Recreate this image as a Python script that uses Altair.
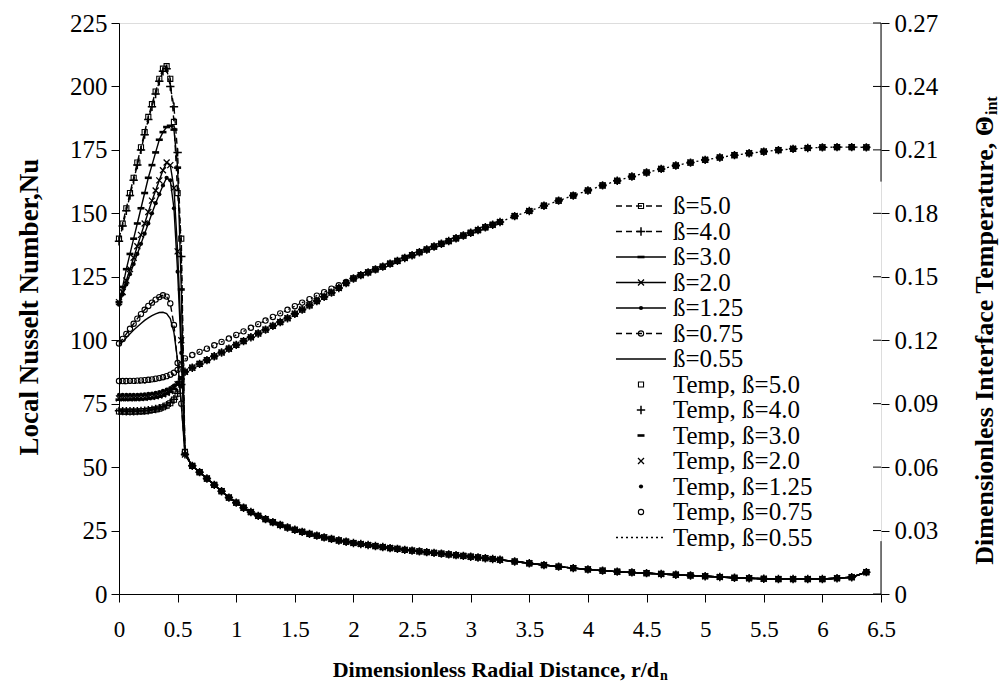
import altair as alt
import pandas as pd

FONT = "Liberation Serif"

# ---------------- data ----------------
R_HEAD = [0.0, 0.03125, 0.0625, 0.09375, 0.125, 0.15625, 0.1875, 0.21875, 0.25, 0.28125,
          0.3125, 0.34375, 0.375, 0.40625, 0.4375, 0.46875, 0.5, 0.53125, 0.5625]
R_TAIL = [0.625, 0.6875, 0.75, 0.8125, 0.875, 0.9375, 1.0, 1.0625, 1.125, 1.1875,
          1.25, 1.3125, 1.375, 1.4375, 1.5, 1.5625, 1.625, 1.6875, 1.75, 1.8125,
          1.875, 1.9375, 2.0, 2.0625, 2.125, 2.1875, 2.25, 2.3125, 2.375, 2.4375,
          2.5, 2.5625, 2.625, 2.6875, 2.75, 2.8125, 2.875, 2.9375, 3.0, 3.0625,
          3.125, 3.1875, 3.25, 3.375, 3.5, 3.625, 3.75, 3.875, 4.0, 4.125,
          4.25, 4.375, 4.5, 4.625, 4.75, 4.875, 5.0, 5.125, 5.25, 5.375,
          5.5, 5.625, 5.75, 5.875, 6.0, 6.125, 6.25, 6.375]

# Local Nusselt number near the stagnation zone (one list per beta)
NU_B50 = [140, 146, 152, 158, 164, 170, 176, 182, 188, 193, 198, 203, 207, 208, 203, 186, 158, 140, 56]
NU_B40 = [139, 145, 151, 157, 163, 169, 175, 181, 187, 192, 197, 202, 206, 207, 200, 192, 174, 133, 55]
NU_B30 = [115, 121, 128, 134, 140, 146, 152, 158, 164, 169, 174, 179, 182, 184, 184.5, 183, 168, 120, 55]
NU_B20 = [115, 119, 123.5, 128, 132.5, 137, 141.5, 146, 150.5, 155, 159, 163, 167, 170, 169, 160, 135, 100, 55]
NU_B125 = [114, 118, 122, 126, 130, 134, 138, 142, 146, 150, 154, 157.5, 161, 164, 163, 152, 127, 95, 55]
NU_B075 = [98.7, 100.5, 102.5, 104.5, 106.5, 108.5, 110.3, 112, 113.5, 114.8, 116, 117, 117.7, 117.2, 114.5, 106, 91, 75, 56]
NU_B055 = [98, 99.5, 101, 102.5, 104, 105.3, 106.6, 107.8, 108.8, 109.7, 110.4, 110.9, 111, 110.5, 108.5, 103, 92, 75, 55]
# Downstream part where all curves coincide
NU_TAIL = [50.5, 48, 45.5, 43, 40.5, 38, 36, 34, 32.3, 30.8,
           29.5, 28.3, 27.2, 26.2, 25.3, 24.5, 23.7, 23.0, 22.3, 21.7,
           21.1, 20.6, 20.1, 19.7, 19.3, 18.9, 18.5, 18.1, 17.8, 17.4,
           17.1, 16.8, 16.5, 16.2, 15.9, 15.6, 15.3, 15.0, 14.7, 14.4,
           14.1, 13.8, 13.5, 12.8, 12.1, 11.4, 10.8, 10.2, 9.7, 9.2,
           8.8, 8.5, 8.2, 7.9, 7.6, 7.3, 7.0, 6.7, 6.4, 6.2,
           6.0, 5.9, 5.9, 5.9, 5.9, 6.2, 6.6, 8.6]

# Interface temperature near the stagnation zone (one list per beta)
T_B50 = [0.0863, 0.0862, 0.0862, 0.0862, 0.0862, 0.0863, 0.0864, 0.0865, 0.0867, 0.0870, 0.0873, 0.0877, 0.0883, 0.0891, 0.0902, 0.0919, 0.0947, 0.0990, 0.1051]
T_B40 = [0.0866, 0.0865, 0.0864, 0.0864, 0.0864, 0.0865, 0.0866, 0.0867, 0.0869, 0.0872, 0.0875, 0.0879, 0.0885, 0.0893, 0.0904, 0.0921, 0.0949, 0.0991, 0.1051]
T_B30 = [0.0919, 0.0919, 0.0919, 0.0919, 0.0920, 0.0920, 0.0921, 0.0922, 0.0924, 0.0926, 0.0929, 0.0933, 0.0938, 0.0946, 0.0956, 0.0970, 0.0990, 0.1017, 0.1051]
T_B20 = [0.0925, 0.0925, 0.0925, 0.0925, 0.0926, 0.0926, 0.0927, 0.0928, 0.0930, 0.0932, 0.0935, 0.0939, 0.0944, 0.0951, 0.0960, 0.0973, 0.0992, 0.1018, 0.1051]
T_B125 = [0.0941, 0.0941, 0.0941, 0.0941, 0.0942, 0.0942, 0.0943, 0.0944, 0.0946, 0.0948, 0.0951, 0.0955, 0.0960, 0.0966, 0.0974, 0.0985, 0.1000, 0.1022, 0.1051]
T_B075 = [0.1007, 0.1007, 0.1007, 0.1008, 0.1008, 0.1009, 0.1010, 0.1011, 0.1013, 0.1015, 0.1018, 0.1021, 0.1025, 0.1030, 0.1037, 0.1046, 0.1060, 0.1085, 0.1114]
T_B055 = [0.0995, 0.0995, 0.0995, 0.0996, 0.0996, 0.0997, 0.0998, 0.0999, 0.1001, 0.1003, 0.1006, 0.1010, 0.1015, 0.1021, 0.1029, 0.1040, 0.1056, 0.1082, 0.1110]
# r = 0.625 ... 1.9375 : two slightly separated bands
T_NEAR_UPPER = [0.1130, 0.1145, 0.1160, 0.1176, 0.1192, 0.1208, 0.1225, 0.1242, 0.1259, 0.1276, 0.1293,
                0.1310, 0.1327, 0.1344, 0.1361, 0.1378, 0.1394, 0.1411, 0.1427, 0.1444, 0.1460, 0.1476]
T_NEAR_LOWER = [0.1070, 0.1088, 0.1106, 0.1124, 0.1142, 0.1160, 0.1178, 0.1196, 0.1214, 0.1232, 0.1250,
                0.1268, 0.1286, 0.1304, 0.1325, 0.1345, 0.1365, 0.1385, 0.1405, 0.1425, 0.1447, 0.1470]
# r = 2.0 ... 6.375 : all temperature curves coincide
T_FAR = [0.1492, 0.1508, 0.1521, 0.1535, 0.1548, 0.1562, 0.1575, 0.1589, 0.1602, 0.1616, 0.1629,
         0.1643, 0.1656, 0.1669, 0.1682, 0.1695, 0.1708, 0.1721, 0.1734, 0.1746, 0.1759,
         0.1787, 0.1811, 0.1836, 0.1860, 0.1884, 0.1908, 0.1932, 0.1954, 0.1974, 0.1993,
         0.2010, 0.2026, 0.2040, 0.2053, 0.2064, 0.2075, 0.2084, 0.2092, 0.2099, 0.2105,
         0.2109, 0.2112, 0.2113, 0.2113, 0.2112]

BETAS = ["5.0", "4.0", "3.0", "2.0", "1.25", "0.75", "0.55"]
NU_HEADS = [NU_B50, NU_B40, NU_B30, NU_B20, NU_B125, NU_B075, NU_B055]
T_HEADS = [T_B50, T_B40, T_B30, T_B20, T_B125, T_B075, T_B055]
T_NEARS = [T_NEAR_LOWER, T_NEAR_LOWER, T_NEAR_LOWER, T_NEAR_LOWER, T_NEAR_LOWER, T_NEAR_UPPER, T_NEAR_UPPER]
NU_LABELS = ["ß=5.0", "ß=4.0", "ß=3.0", "ß=2.0", "ß=1.25", "ß=0.75", "ß=0.55"]
T_LABELS = ["Temp, ß=5.0", "Temp, ß=4.0", "Temp, ß=3.0", "Temp,  ß=2.0", "Temp, ß=1.25", "Temp, ß=0.75", "Temp, ß=0.55"]

X_TICKS = [0, 0.5, 1, 1.5, 2, 2.5, 3, 3.5, 4, 4.5, 5, 5.5, 6, 6.5]
NU_TICKS = [0, 25, 50, 75, 100, 125, 150, 175, 200, 225]
T_TICKS = [0, 0.03, 0.06, 0.09, 0.12, 0.15, 0.18, 0.21, 0.24, 0.27]

# ---------------- styles ----------------
W, H = 762, 571
DASH = [6, 4]
LINE_DASH = [DASH, DASH, None, None, None, DASH, None]
MARKERS = {
    "square": dict(shape="square", size=26, filled=False, strokeWidth=1.1),
    "plus": dict(shape="M-1,0L1,0M0,-1L0,1", size=70, filled=False, strokeWidth=1.5),
    "dash": dict(shape="M-1,0L1,0", size=49, filled=False, strokeWidth=2.6),
    "x": dict(shape="M-1,-1L1,1M-1,1L1,-1", size=36, filled=False, strokeWidth=1.3),
    "dot": dict(shape="circle", size=18, filled=True, strokeWidth=0),
    "circle": dict(shape="circle", size=28, filled=False, strokeWidth=1.1),
}
SERIES_MARKER = ["square", "plus", "dash", "x", "dot", "circle", None]

axis_common = dict(grid=False, labelFont=FONT, labelColor="black",
                   domainColor="black", tickColor="black", title=None)

x_enc = alt.X("r:Q", scale=alt.Scale(domain=[0, 6.5], nice=False, zero=False),
              axis=alt.Axis(values=X_TICKS, format="~g", tickSize=8, labelPadding=16, labelFontSize=23,
                            labelFlush=False, **axis_common))
y_nu = alt.Y("nu:Q", scale=alt.Scale(domain=[0, 225], nice=False),
             axis=alt.Axis(values=NU_TICKS, format="d", orient="left", tickSize=8, labelFontSize=25,
                           labelPadding=4, **axis_common))
y_t = alt.Y("t:Q", scale=alt.Scale(domain=[0, 0.27], nice=False),
            axis=alt.Axis(values=T_TICKS, orient="right", tickSize=8, labelPadding=5, domain=False,
                          labelFontSize=25,
                          labelExpr="datum.value == 0 ? '0' : format(datum.value, '.2f')",
                          **axis_common))


def point_mark(name, scale=1.0):
    m = MARKERS[name]
    return dict(shape=m["shape"], size=m["size"] * scale, filled=m["filled"],
                strokeWidth=m["strokeWidth"], color="black", opacity=1)


nu_layers = []
t_layers = []
for i, b in enumerate(BETAS):
    nu_df = pd.DataFrame({"r": R_HEAD + R_TAIL, "nu": NU_HEADS[i] + NU_TAIL})
    line_kw = dict(color="black", strokeWidth=1.4)
    if LINE_DASH[i] is not None:
        line_kw["strokeDash"] = LINE_DASH[i]
    nu_layers.append(alt.Chart(nu_df).mark_line(**line_kw).encode(x=x_enc, y=y_nu))
    if SERIES_MARKER[i] is not None:
        nu_layers.append(alt.Chart(nu_df).mark_point(**point_mark(SERIES_MARKER[i])).encode(x=x_enc, y=y_nu))

    t_df = pd.DataFrame({"r": R_HEAD + R_TAIL, "t": T_HEADS[i] + T_NEARS[i] + T_FAR})
    if SERIES_MARKER[i] is not None:
        t_layers.append(alt.Chart(t_df).mark_point(**point_mark(SERIES_MARKER[i])).encode(x=x_enc, y=y_t))
    else:
        t_layers.append(alt.Chart(t_df).mark_line(color="black", strokeWidth=1.3, strokeDash=[2, 3])
                        .encode(x=x_enc, y=y_t))

# right axis: inward half of the crossing ticks and the (partly hidden) axis line
tick_df = pd.DataFrame({"t": T_TICKS})
t_layers.append(alt.Chart(tick_df).mark_rule(color="black", strokeWidth=1)
                .encode(y=y_t, x=alt.value(W - 8), x2=alt.value(W)))
seg_df = pd.DataFrame({"t": [0.195, 0.0], "t2": [0.27, 0.025]})
t_layers.append(alt.Chart(seg_df).mark_rule(color="black", strokeWidth=1)
                .encode(y=y_t, y2="t2:Q", x=alt.value(W)))

# ---------------- legend (drawn by hand, Excel style) ----------------
one = pd.DataFrame({"a": [0]})
LEG_TOP = 183
LEG_STEP = 25.5
LEG_FS = 25
LEG_X1, LEG_X2, LEG_MX, LEG_TX = 497, 547, 522, 554
extra = []
for i in range(7):
    yy = LEG_TOP + i * LEG_STEP
    rk = dict(color="black", strokeWidth=1.4)
    if LINE_DASH[i] is not None:
        rk["strokeDash"] = LINE_DASH[i]
    extra.append(alt.Chart(one).mark_rule(**rk).encode(x=alt.value(LEG_X1), x2=alt.value(LEG_X2), y=alt.value(yy)))
    if SERIES_MARKER[i] is not None:
        extra.append(alt.Chart(one).mark_point(**point_mark(SERIES_MARKER[i]))
                     .encode(x=alt.value(LEG_MX), y=alt.value(yy)))
    extra.append(alt.Chart(one).mark_text(font=FONT, fontSize=LEG_FS, align="left", baseline="middle", color="black")
                 .encode(x=alt.value(LEG_TX), y=alt.value(yy), text=alt.value(NU_LABELS[i])))
for i in range(7):
    yy = LEG_TOP + (i + 7) * LEG_STEP
    if SERIES_MARKER[i] is not None:
        extra.append(alt.Chart(one).mark_point(**point_mark(SERIES_MARKER[i]))
                     .encode(x=alt.value(LEG_MX), y=alt.value(yy)))
    else:
        extra.append(alt.Chart(one).mark_rule(color="black", strokeWidth=1.3, strokeDash=[2, 3])
                     .encode(x=alt.value(LEG_X1), x2=alt.value(LEG_X2), y=alt.value(yy)))
    extra.append(alt.Chart(one).mark_text(font=FONT, fontSize=LEG_FS, align="left", baseline="middle", color="black")
                 .encode(x=alt.value(LEG_TX), y=alt.value(yy), text=alt.value(T_LABELS[i])))

# ---------------- axis titles (with subscripts) ----------------
TITLE_KW = dict(font=FONT, fontSize=22, fontWeight="bold", color="black", baseline="middle")
extra.append(alt.Chart(one).mark_text(align="right", **TITLE_KW)
             .encode(x=alt.value(540), y=alt.value(647), text=alt.value("Dimensionless Radial Distance, r/d")))
extra.append(alt.Chart(one).mark_text(align="left", font=FONT, fontSize=14, fontWeight="bold", color="black",
                                      baseline="middle")
             .encode(x=alt.value(541), y=alt.value(653), text=alt.value("n")))
extra.append(alt.Chart(one).mark_text(align="center", angle=270, font=FONT, fontSize=27, fontWeight="bold",
                                      color="black", baseline="middle")
             .encode(x=alt.value(-89), y=alt.value(284), text=alt.value("Local Nusselt Number,Nu")))
extra.append(alt.Chart(one).mark_text(align="right", angle=270, font=FONT, fontSize=26, fontWeight="bold",
                                      color="black", baseline="middle")
             .encode(x=alt.value(866), y=alt.value(93),
                     text=alt.value("Dimensionless Interface Temperature, \u0398")))
extra.append(alt.Chart(one).mark_text(align="left", angle=270, font=FONT, fontSize=16, fontWeight="bold",
                                      color="black", baseline="middle")
             .encode(x=alt.value(873), y=alt.value(92), text=alt.value("int")))

chart = (
    alt.layer(alt.layer(*nu_layers), alt.layer(*t_layers), alt.layer(*extra))
    .resolve_scale(y="independent")
    .properties(width=W, height=H,
                padding={"left": 119, "top": 23, "right": 126, "bottom": 92},
                autosize=alt.AutoSizeParams(type="none"))
    .configure_view(stroke=None)
    .configure(background="white")
)

chart.save("out.html", embed_options={"renderer": "svg", "actions": False})
